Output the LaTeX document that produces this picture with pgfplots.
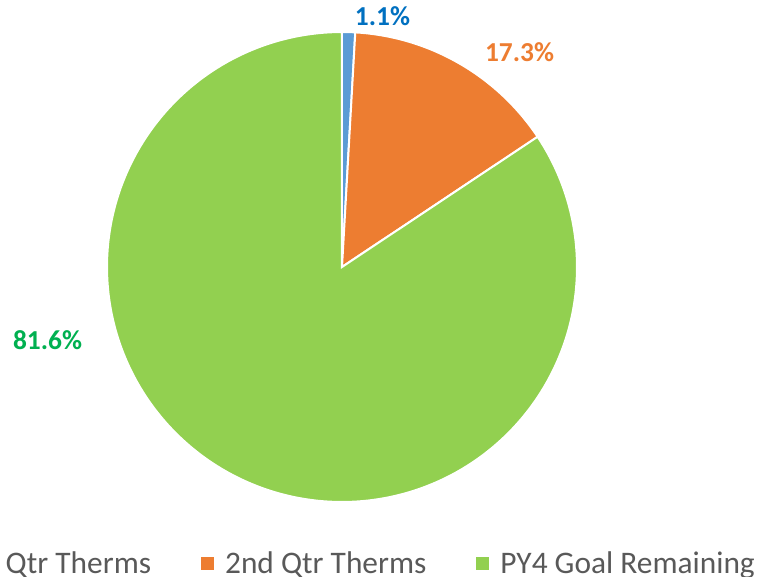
\documentclass[border=0pt]{standalone}
\usepackage{fontspec}
\setmainfont{Carlito}
\usepackage{pgfplots}
\usepackage{pgfplotstable}
\pgfplotsset{compat=1.18}
\definecolor{qone}{RGB}{91,155,213}
\definecolor{qtwo}{RGB}{237,125,49}
\definecolor{goal}{RGB}{146,208,80}
\definecolor{qonetxt}{RGB}{0,112,192}
\definecolor{goaltxt}{RGB}{0,176,80}
\definecolor{legtxt}{RGB}{89,89,89}

% share of the circle, in percent, as drawn
\pgfplotstableread{
part share
first 0.9
second 14.75
goal 84.35
}\piedata

\begin{document}
\begin{tikzpicture}
\useasboundingbox (0,0) rectangle (767bp,577bp);
\pgfplotstablegetelem{0}{share}\of\piedata \let\sA\pgfplotsretval
\pgfplotstablegetelem{1}{share}\of\piedata \let\sB\pgfplotsretval
\pgfplotstablegetelem{2}{share}\of\piedata \let\sC\pgfplotsretval
\pgfmathsetmacro{\aA}{90}
\pgfmathsetmacro{\aB}{\aA-3.6*\sA}
\pgfmathsetmacro{\aC}{\aB-3.6*\sB}
\pgfmathsetmacro{\aD}{\aC-3.6*\sC}
\def\cx{342}\def\cy{310}\def\rr{235}
\begin{axis}[
    x=1bp, y=1bp, xmin=0, xmax=767, ymin=0, ymax=577,
    anchor=origin, at={(0,0)}, hide axis, clip=false,
    legend columns=-1,
    legend image code/.code={\fill[#1, draw=none] (0bp,-6.5bp) rectangle (13bp,6.5bp);},
    legend style={at={(axis cs:755,0)}, anchor=south east, draw=none, fill=none,
      inner sep=0pt, font=\fontsize{31.5}{36}\selectfont, text=legtxt,
      nodes={inner xsep=0pt},
      /tikz/every odd column/.append style={column sep=11bp},
      /tikz/every even column/.append style={column sep=50bp}},
  ]
  \addplot[fill=qone, draw=white, line width=2bp, domain=\aB:\aA, samples=10]
    ({\cx+\rr*cos(x)}, {\cy+\rr*sin(x)}) -- (axis cs:\cx,\cy) -- cycle;
  \addlegendentry{1st Qtr Therms}
  \addplot[fill=qtwo, draw=white, line width=2bp, domain=\aC:\aB, samples=60]
    ({\cx+\rr*cos(x)}, {\cy+\rr*sin(x)}) -- (axis cs:\cx,\cy) -- cycle;
  \addlegendentry{2nd Qtr Therms}
  \addplot[fill=goal, draw=white, line width=2bp, domain=\aD:\aC, samples=200]
    ({\cx+\rr*cos(x)}, {\cy+\rr*sin(x)}) -- (axis cs:\cx,\cy) -- cycle;
  \addlegendentry{PY4 Goal Remaining}
  \node[anchor=base, text=qonetxt, font=\bfseries\fontsize{27.5}{32}\selectfont]
    at (axis cs:382.5,551) {1.1\%};
  \node[anchor=base, text=qtwo, font=\bfseries\fontsize{27.5}{32}\selectfont]
    at (axis cs:519.5,515) {17.3\%};
  \node[anchor=base, text=goaltxt, font=\bfseries\fontsize{27.5}{32}\selectfont]
    at (axis cs:47.5,228) {81.6\%};
\end{axis}
\end{tikzpicture}
\end{document}
